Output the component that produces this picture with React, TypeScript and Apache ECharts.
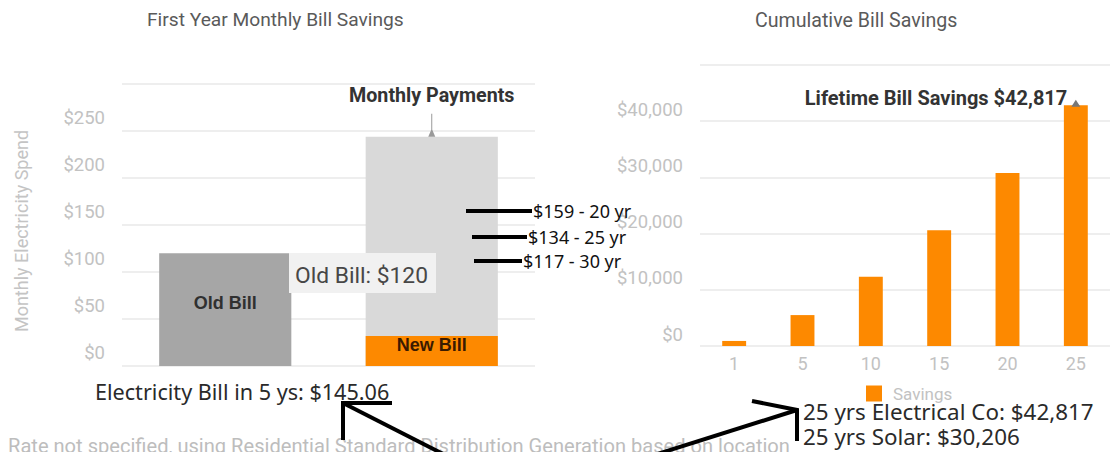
import React, { useEffect, useRef } from 'react';
import * as echarts from 'echarts';

// ---- data ----
const billCategories = ['Old Bill', 'New Bill'];
const oldBillValues = [120, null];
const monthlyPaymentValues = [null, 244];
const newBillValues = [null, 32];

const savingsYears = ['1', '5', '10', '15', '20', '25'];
const savingsValues = [900, 5500, 12300, 20600, 30800, 42817];

const loanNotes = ['$159 - 20 yr', '$134 - 25 yr', '$117 - 30 yr'];
const comparisonNotes = ['25 yrs Electrical Co: $42,817', '25 yrs Solar: $30,206'];
const electricityNote = 'Electricity Bill in 5 ys: $145.06';
const rateNote = 'Rate not specified, using Residential Standard Distribution Generation based on location';

const ORANGE = '#fd8900';
const AXIS_TXT = '#c2c2c2';
const GRID = '#e9e9e9';
const HAND = 'Noto Sans';

export default function App() {
  const ref = useRef<HTMLDivElement>(null);

  useEffect(() => {
    if (!ref.current) return;
    const chart = echarts.init(ref.current, undefined, { renderer: 'svg' });

    const last = savingsValues.length - 1;
    const stemPath = 'path://M3,0 L4,0 L4,16 L7,23 L0,23 L3,16 Z';

    const option: any = {
      animation: false,
      title: [
        {
          text: 'First Year Monthly Bill Savings',
          left: 147,
          top: 10,
          padding: 0,
          textStyle: { fontFamily: 'Roboto', fontSize: 19.2, fontWeight: 'normal', color: '#5a5a5a' },
        },
        {
          text: 'Cumulative Bill Savings',
          left: 755,
          top: 10,
          padding: 0,
          textStyle: { fontFamily: 'Roboto', fontSize: 19.6, fontWeight: 'normal', color: '#5a5a5a' },
        },
      ],
      legend: {
        data: ['Savings'],
        left: 866,
        top: 385,
        padding: 0,
        icon: 'rect',
        itemWidth: 16,
        itemHeight: 16,
        textStyle: { fontFamily: 'Roboto', fontSize: 17, color: AXIS_TXT, padding: [0, 0, 0, 6] },
      },
      grid: [
        { left: 122, top: 84, width: 413, height: 282 },
        { left: 700, top: 65, width: 416, height: 281 },
      ],
      xAxis: [
        {
          type: 'category',
          gridIndex: 0,
          data: billCategories,
          axisLine: { show: false },
          axisTick: { show: false },
          axisLabel: { show: false },
        },
        {
          type: 'category',
          gridIndex: 1,
          data: savingsYears,
          axisLine: { show: false },
          axisTick: { show: false },
          axisLabel: { margin: 8, fontFamily: 'Roboto', fontSize: 18, color: AXIS_TXT },
        },
      ],
      yAxis: [
        {
          type: 'value',
          gridIndex: 0,
          min: 0,
          max: 300,
          interval: 50,
          name: 'Monthly Electricity Spend',
          nameLocation: 'middle',
          nameRotate: 90,
          nameGap: 92,
          nameTextStyle: { fontFamily: 'Roboto', fontSize: 18, color: '#c4c4c4', padding: [0, 12, 0, 0] },
          axisLine: { show: false },
          axisTick: { show: false },
          axisLabel: {
            margin: 17,
            fontFamily: 'Roboto',
            fontSize: 18.5,
            color: AXIS_TXT,
            verticalAlign: 'bottom',
            lineHeight: 26,
            formatter: (v: number) => (v === 300 ? '' : '$' + v),
          },
          splitLine: { lineStyle: { color: GRID, width: 1.5 } },
        },
        {
          type: 'value',
          gridIndex: 1,
          min: 0,
          max: 50000,
          interval: 10000,
          axisLine: { show: false },
          axisTick: { show: false },
          axisLabel: {
            margin: 17,
            fontFamily: 'Roboto',
            fontSize: 18.5,
            color: AXIS_TXT,
            verticalAlign: 'bottom',
            lineHeight: 23,
            formatter: (v: number) => (v === 50000 ? '' : '$' + v.toLocaleString('en-US')),
          },
          splitLine: { lineStyle: { color: GRID, width: 1.5 } },
        },
      ],
      series: [
        {
          name: 'Old Bill',
          type: 'bar',
          xAxisIndex: 0,
          yAxisIndex: 0,
          data: oldBillValues,
          barWidth: '64%',
          barGap: '-100%',
          itemStyle: { color: '#a6a6a6' },
          label: {
            show: true,
            position: 'inside',
            offset: [0, -7],
            formatter: '{a}',
            fontFamily: 'Liberation Sans',
            fontWeight: 'bold',
            fontSize: 18,
            color: '#303030',
          },
        },
        {
          name: 'Monthly Payments',
          type: 'bar',
          xAxisIndex: 0,
          yAxisIndex: 0,
          data: monthlyPaymentValues,
          barWidth: '64%',
          barGap: '-100%',
          itemStyle: { color: '#d9d9d9' },
          markPoint: {
            symbol: stemPath,
            symbolSize: [7, 23],
            symbolOffset: [0, '-50%'],
            itemStyle: { color: '#9a9a9a' },
            label: {
              show: true,
              position: 'top',
              distance: 8,
              formatter: 'Monthly Payments',
              fontFamily: 'Roboto',
              fontWeight: 'bold',
              fontSize: 19.7,
              color: '#333',
            },
            data: [{ coord: [billCategories[1], monthlyPaymentValues[1]] }],
          },
        },
        {
          name: 'New Bill',
          type: 'bar',
          xAxisIndex: 0,
          yAxisIndex: 0,
          data: newBillValues,
          barWidth: '64%',
          barGap: '-100%',
          itemStyle: { color: ORANGE },
          label: {
            show: true,
            position: 'inside',
            offset: [0, -6],
            formatter: '{a}',
            fontFamily: 'Liberation Sans',
            fontWeight: 'bold',
            fontSize: 18,
            color: '#3a1a00',
          },
        },
        {
          name: 'Savings',
          type: 'bar',
          xAxisIndex: 1,
          yAxisIndex: 1,
          data: savingsValues,
          barWidth: '35%',
          itemStyle: { color: ORANGE },
          markPoint: {
            symbol: 'triangle',
            symbolSize: [9, 7],
            symbolOffset: [0, -2],
            itemStyle: { color: '#777' },
            label: {
              show: true,
              position: 'left',
              distance: 4,
              offset: [0, -5],
              formatter: 'Lifetime Bill Savings $' + savingsValues[last].toLocaleString('en-US'),
              fontFamily: 'Roboto',
              fontWeight: 'bold',
              fontSize: 20,
              color: '#333',
            },
            data: [{ coord: [savingsYears[last], savingsValues[last]] }],
          },
        },
      ],
      graphic: [
        // tooltip box
        {
          type: 'rect',
          z: 50,
          shape: { x: 289, y: 253, width: 147, height: 40 },
          style: { fill: '#f1f1f1' },
        },
        {
          type: 'text',
          z: 51,
          x: 295,
          y: 275,
          style: {
            text: `${billCategories[0]}: $${oldBillValues[0]}`,
            fontFamily: 'Roboto',
            fontSize: 22.8,
            fill: '#474747',
            verticalAlign: 'middle',
          },
        },
        // loan term marks
        ...[
          [466, 532, 211],
          [472, 527, 237],
          [474, 522, 261],
        ].flatMap(([x1, x2, y], i) => [
          {
            type: 'line',
            z: 52,
            shape: { x1, y1: y, x2, y2: y },
            style: { stroke: '#000', lineWidth: 4 },
          },
          {
            type: 'text',
            z: 53,
            x: x2 + 1,
            y,
            style: {
              text: loanNotes[i],
              fontFamily: HAND,
              fontSize: 18,
              fill: '#111',
              verticalAlign: 'middle',
            },
          },
        ]),
        // bottom notes
        {
          type: 'text',
          z: 53,
          x: 95,
          y: 391,
          style: { text: electricityNote, fontFamily: HAND, fontSize: 21.6, fill: '#2a2a2a', verticalAlign: 'middle' },
        },
        {
          type: 'text',
          z: 40,
          x: 8,
          y: 446,
          style: { text: rateNote, fontFamily: 'Roboto', fontSize: 20.1, fill: '#bdbdbd', verticalAlign: 'middle' },
        },
        {
          type: 'text',
          z: 53,
          x: 803,
          y: 411,
          style: { text: comparisonNotes[0], fontFamily: HAND, fontSize: 22.4, fill: '#2a2a2a', verticalAlign: 'middle' },
        },
        {
          type: 'text',
          z: 53,
          x: 803,
          y: 436,
          style: { text: comparisonNotes[1], fontFamily: HAND, fontSize: 22.4, fill: '#2a2a2a', verticalAlign: 'middle' },
        },
        // arrows
        {
          type: 'polyline',
          z: 54,
          shape: { points: [[392, 403], [343, 403], [343, 440]] },
          style: { stroke: '#000', lineWidth: 4, fill: null },
        },
        {
          type: 'line',
          z: 54,
          shape: { x1: 343, y1: 403, x2: 449, y2: 457 },
          style: { stroke: '#000', lineWidth: 4 },
        },
        {
          type: 'polyline',
          z: 54,
          shape: { points: [[752, 401], [797, 410], [797, 441]] },
          style: { stroke: '#000', lineWidth: 4, fill: null },
        },
        {
          type: 'line',
          z: 54,
          shape: { x1: 797, y1: 410, x2: 648, y2: 457 },
          style: { stroke: '#000', lineWidth: 4 },
        },
      ],
    };

    chart.setOption(option);
    return () => chart.dispose();
  }, []);

  return (
    <div
      ref={ref}
      style={{ position: 'fixed', left: 0, top: 0, width: 1110, height: 452, background: '#fff' }}
    />
  );
}
